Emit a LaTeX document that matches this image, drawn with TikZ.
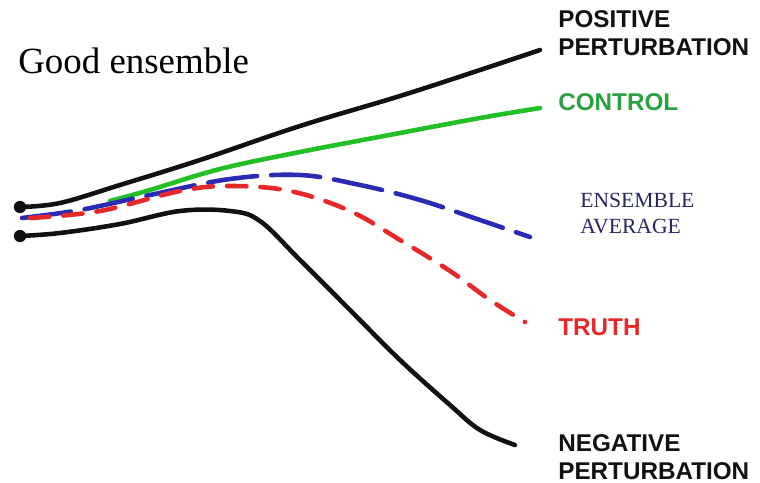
\documentclass[tikz,border=0pt]{standalone}
\usepackage{fontspec}
\setmainfont{Liberation Serif}
\setsansfont{Liberation Sans}
\usepackage{tikz}
\usetikzlibrary{positioning}
\definecolor{Ink}{HTML}{111111}
\definecolor{Ctrl}{HTML}{22C026}
\definecolor{CtrlTxt}{HTML}{2AA040}
\definecolor{Ens}{HTML}{2A2AB4}
\definecolor{EnsTxt}{HTML}{262660}
\definecolor{Truth}{HTML}{E62828}

\begin{document}
\begin{tikzpicture}[x=0.02cm,y=-0.02cm,
    curve/.style={line width=2.6pt,line cap=round,line join=round},
    lbl/.style={inner sep=0pt,anchor=north west,align=left,
      font=\sffamily\bfseries\fontsize{13.8}{15.9}\selectfont},
    start/.style={circle,fill=Ink,inner sep=0pt,minimum size=7pt}
  ]
    \useasboundingbox (0,0) rectangle (760,483);
    \node[inner sep=0pt,anchor=base west,font=\fontsize{21}{24}\selectfont] (title) at (18,73) {Good ensemble};
    % trajectories
    \draw[curve,Ink] plot[smooth,tension=0.6] coordinates {(20,207) (60,203) (120,185) (200,160) (300,126) (400,96) (480,70) (540,50)};
    \draw[curve,Ctrl] plot[smooth,tension=0.6] coordinates {(110,201) (150,190) (220,169) (300,152) (400,133) (480,118) (540,108)};
    \draw[curve,Ens,dash pattern=on 28pt off 8pt] plot[smooth,tension=0.6] coordinates {(22,218) (80,210) (150,195) (230,179) (300,175) (360,185) (420,200) (480,220) (530,237)};
    \draw[curve,Truth,dash pattern=on 11pt off 8pt] plot[smooth,tension=0.6] coordinates {(30,218) (100,211) (180,191) (230,186) (290,191) (350,211) (400,240) (450,271) (490,300) (525,322)};
    \draw[curve,Ink] plot[smooth,tension=0.6] coordinates {(20,236) (60,233) (120,224) (180,211) (230,211) (260,221) (300,260) (350,310) (400,360) (450,405) (480,430) (515,445)};
    \node[start] (posstart) at (20,207) {};
    \node[start] (negstart) at (20,236) {};
    % labels
    \node[lbl,Ink] (pos) at (558,10) {POSITIVE\\PERTURBATION};
    \node[lbl,CtrlTxt] (ctrl) at (558,93) {CONTROL};
    \node[inner sep=0pt,anchor=north west,align=left,EnsTxt,
      font=\fontsize{12.3}{14.5}\selectfont] (ens) at (580,193) {ENSEMBLE\\AVERAGE};
    \node[lbl,Truth] (truth) at (558,318) {TRUTH};
    \node[lbl,Ink] (neg) at (558,434) {NEGATIVE\\PERTURBATION};
  \end{tikzpicture}
\end{document}
